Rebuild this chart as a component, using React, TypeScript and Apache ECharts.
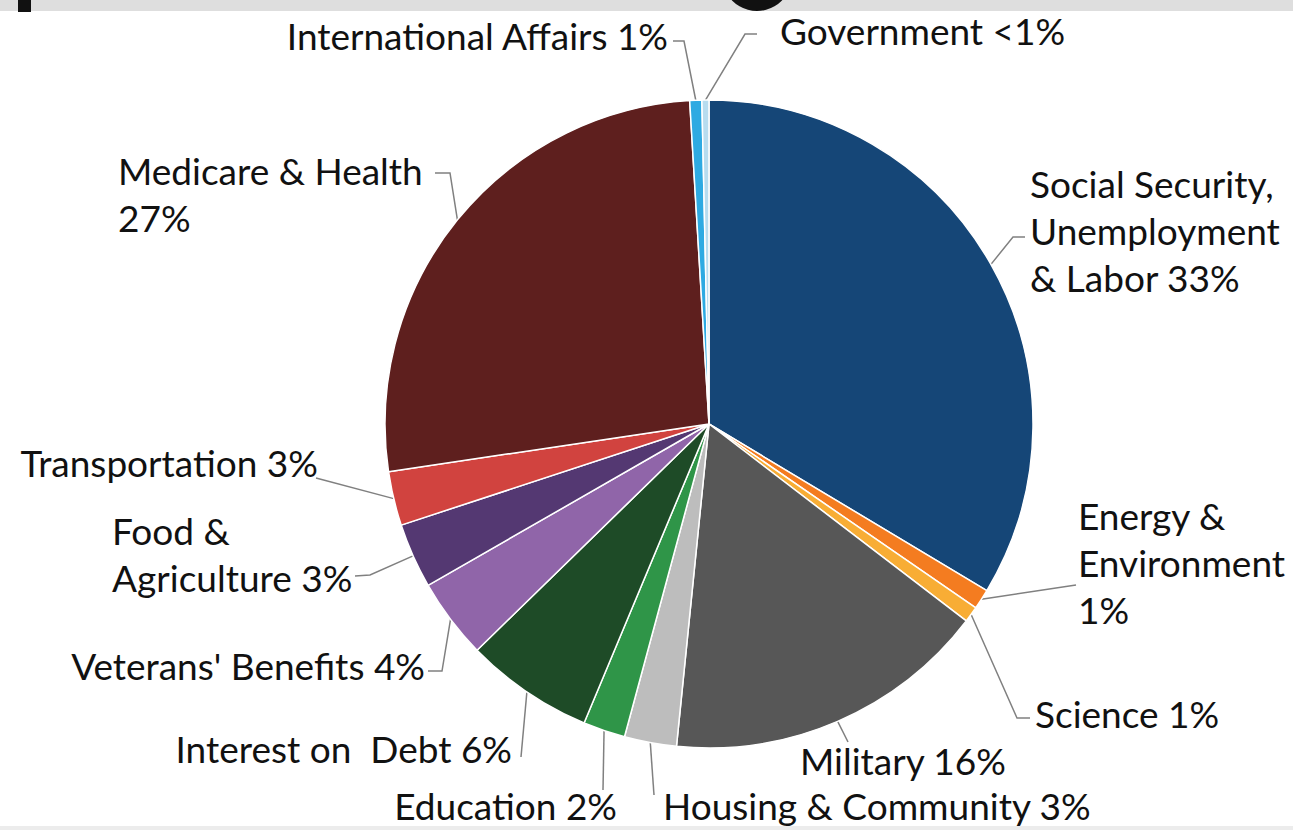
import React, { useEffect, useRef } from 'react';
import * as echarts from 'echarts';

const categories = [
  'Social Security, Unemployment & Labor',
  'Energy & Environment',
  'Science',
  'Military',
  'Housing & Community',
  'Education',
  'Interest on Debt',
  "Veterans' Benefits",
  'Food & Agriculture',
  'Transportation',
  'Medicare & Health',
  'International Affairs',
  'Government',
];
const values = [33.6, 1.0, 0.8, 16.2, 2.6, 2.1, 6.4, 4.0, 3.25, 2.7, 26.4, 0.6, 0.35];
const labelTexts = [
  'Social Security,\nUnemployment\n& Labor 33%',
  'Energy &\nEnvironment\n1%',
  'Science 1%',
  'Military 16%',
  'Housing & Community 3%',
  'Education 2%',
  'Interest on  Debt 6%',
  "Veterans' Benefits 4%",
  'Food &\nAgriculture 3%',
  'Transportation 3%',
  'Medicare & Health\n27%',
  'International Affairs 1%',
  'Government <1%',
];
const colors = [
  '#154677', '#f47c20', '#f8ad35', '#575757', '#bdbdbd', '#2f9548', '#1e4b27',
  '#9065a9', '#543872', '#d1433f', '#5e1f1e', '#2eaae2', '#b7dcef',
];

// label anchor positions [x, y(middle), align]
const labelPos: [number, number, string][] = [
  [1030, 230, 'left'],
  [1078, 562, 'left'],
  [1035, 713, 'left'],
  [800, 760, 'left'],
  [663, 805, 'left'],
  [617, 805, 'right'],
  [512, 748, 'right'],
  [425, 665, 'right'],
  [112, 554, 'left'],
  [318, 462, 'right'],
  [118, 194, 'left'],
  [668, 35, 'right'],
  [780, 30, 'left'],
];
// leader-line points after the slice edge point
const linePts: number[][][] = [
  [[1013, 237], [1025, 237]],
  [[1076, 585]],
  [[1017, 718], [1030, 718]],
  [[848, 742]],
  [[654, 795]],
  [[603, 790]],
  [[521, 757]],
  [[442, 671], [428, 671]],
  [[370, 575], [355, 576]],
  [[316, 478]],
  [[450, 173], [435, 173]],
  [[684, 41], [673, 41]],
  [[745, 34], [757, 34]],
];

export default function App() {
  const ref = useRef<HTMLDivElement>(null);
  useEffect(() => {
    document.body.style.margin = '0';
    const chart = echarts.init(ref.current!, null, { renderer: 'svg' });
    chart.setOption({
      animation: false,
      backgroundColor: '#ffffff',
      graphic: [
        { type: 'rect', shape: { x: 0, y: 0, width: 1293, height: 11 }, style: { fill: '#dedede' } },
        { type: 'rect', shape: { x: 18, y: 0, width: 13, height: 12 }, style: { fill: '#111' } },
        { type: 'circle', shape: { cx: 757, cy: -24, r: 35 }, style: { fill: '#111' } },
        { type: 'rect', shape: { x: 0, y: 826, width: 1293, height: 4 }, style: { fill: '#ececec' } },
      ],
      series: [
        {
          type: 'pie',
          center: [709, 424],
          radius: 324,
          startAngle: 90,
          clockwise: true,
          avoidLabelOverlap: false,
          itemStyle: { borderColor: '#ffffff', borderWidth: 1.5 },
          label: {
            show: true,
            position: 'outside',
            color: '#111111',
            fontFamily: 'Lato',
            fontSize: 37,
            lineHeight: 47,
          },
          labelLine: {
            show: true,
            length: 10,
            length2: 10,
            smooth: false,
            lineStyle: { color: '#808080', width: 1.5 },
          },
          labelLayout: (p: any) => {
            const i = p.dataIndex;
            const pos = labelPos[i];
            const start = p.labelLinePoints ? p.labelLinePoints[0] : linePts[i][0];
            return {
              x: pos[0],
              y: pos[1],
              align: pos[2],
              verticalAlign: 'middle',
              labelLinePoints: [start, ...linePts[i]],
            };
          },
          data: categories.map((n, i) => ({
            name: n,
            value: values[i],
            itemStyle: { color: colors[i] },
            label: { formatter: labelTexts[i] },
          })),
        },
      ],
    });
    return () => chart.dispose();
  }, []);
  return <div ref={ref} style={{ width: 1293, height: 830, position: 'absolute', left: 0, top: 0 }} />;
}
